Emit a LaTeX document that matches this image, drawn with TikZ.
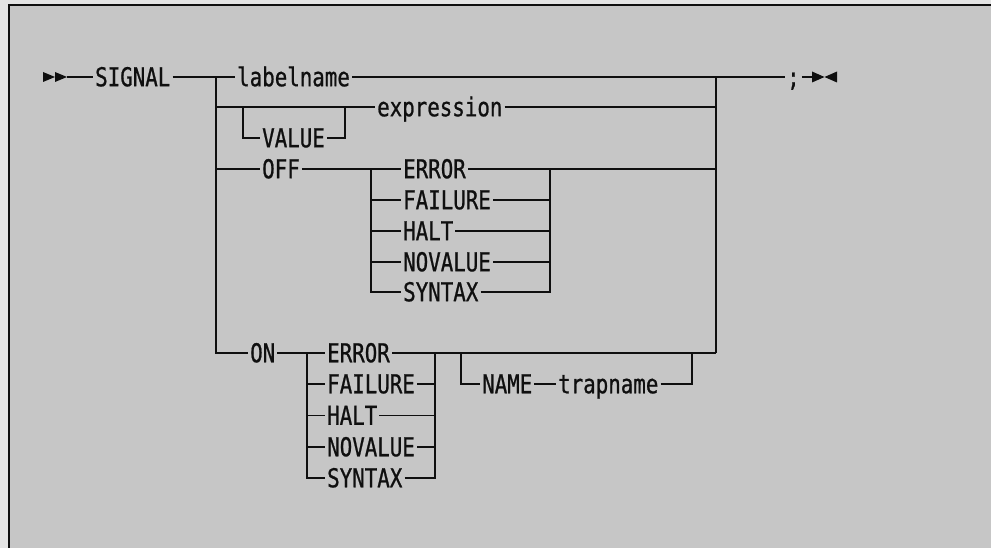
\documentclass[tikz,border=0pt]{standalone}
\usepackage{fontspec}
\newfontfamily\ibm[FakeStretch=0.8,FakeBold=0.8]{DejaVu Sans Mono}
\definecolor{paper}{RGB}{198,198,198}
\definecolor{outer}{RGB}{228,228,228}
\definecolor{ink}{RGB}{15,15,15}
\begin{document}
\begin{tikzpicture}[x=1pt,y=-1pt,
  kw/.style={anchor=west, inner xsep=2pt, inner ysep=0pt, text height=18.5pt, text depth=0pt,
    font=\ibm\fontsize{26}{26}\selectfont, text=ink},
  rail/.style={line width=1.6pt, draw=ink, line join=miter},
  tip/.style={fill=ink}]
\useasboundingbox (0,0) rectangle (991,548);
\fill[outer] (0,0) rectangle (991,548);
\fill[paper] (9,5) rectangle (991,548);
\draw[line width=1.6pt, ink] (9,548) -- (9,5) -- (991,5);

% junctions
\coordinate (s) at (43,77);
\coordinate (a) at (67,77);
\coordinate (jl) at (216,77);
\coordinate (jr) at (716,77);
\coordinate (eend) at (812,77);
\coordinate (vl) at (243,107);
\coordinate (vr) at (345,107);
\coordinate (ol) at (371,169);
\coordinate (or) at (550,169);
\coordinate (nl) at (307,353);
\coordinate (nr) at (435,353);
\coordinate (ml) at (461,353);
\coordinate (mr) at (692,353);

% keywords
\node[kw] (sig) at (93,77) {SIGNAL};
\node[kw] (lab) at (235,77) {labelname};
\node[kw] (semi) at (785,77) {;};
\node[kw] (expr) at (375,107) {expression};
\node[kw] (val) at (260,138) {VALUE};
\node[kw] (off) at (260,169) {OFF};
\node[kw] (e1) at (401,169) {ERROR};
\node[kw] (f1) at (401,200) {FAILURE};
\node[kw] (h1) at (401,231) {HALT};
\node[kw] (n1) at (401,262) {NOVALUE};
\node[kw] (s1) at (401,292) {SYNTAX};
\node[kw] (on) at (248,353) {ON};
\node[kw] (e2) at (325,353) {ERROR};
\node[kw] (f2) at (325,384) {FAILURE};
\node[kw] (h2) at (325,415.5) {HALT};
\node[kw] (n2) at (325,447) {NOVALUE};
\node[kw] (s2) at (325,478) {SYNTAX};
\node[kw] (nm) at (480,384) {NAME};
\node[kw] (tn) at (556,384) {trapname};

% start and end markers
\fill[tip] (s) ++(0,-5) -- ++(12,5) -- ++(-12,5) -- cycle;
\fill[tip] (s) ++(12,-5) -- ++(12,5) -- ++(-12,5) -- cycle;
\fill[tip] (eend) ++(0,-5.5) -- ++(12.5,5.5) -- ++(-12.5,5.5) -- cycle;
\fill[tip] (eend) ++(25,-5.5) -- ++(-12.5,5.5) -- ++(12.5,5.5) -- cycle;

% main line
\draw[rail] (a) -- (sig.west);
\draw[rail] (sig.east) -- (lab.west);
\draw[rail] (lab.east) -- (semi.west);
\draw[rail] (semi.east) -- (eend);
\draw[rail] (jl) -- (jl |- on.west) -- (on.west);
\draw[rail] (jr) -- (jr |- e2.west);

% expression row
\draw[rail] (jl |- expr.west) -- (expr.west);
\draw[rail] (expr.east) -- (jr |- expr.west);
\draw[rail] (vl) |- (val.west);
\draw[rail] (val.east) -| (vr);

% OFF row
\draw[rail] (jl |- off.west) -- (off.west);
\draw[rail] (off.east) -- (e1.west);
\draw[rail] (e1.east) -- (jr |- e1.west);
\draw[rail] (ol) |- (s1.west);
\draw[rail] (s1.east) -| (or);
\foreach \n in {f1,h1,n1}{
  \draw[rail] (ol |- \n.west) -- (\n.west);
  \draw[rail] (\n.east) -- (or |- \n.west);
}

% ON row
\draw[rail] (on.east) -- (e2.west);
\draw[rail] (e2.east) -- (jr |- e2.west);
\draw[rail] (nl) |- (s2.west);
\draw[rail] (s2.east) -| (nr);
\foreach \n in {f2,h2,n2}{
  \draw[rail] (nl |- \n.west) -- (\n.west);
  \draw[rail] (\n.east) -- (nr |- \n.west);
}
\draw[rail] (ml) |- (nm.west);
\draw[rail] (nm.east) -- (tn.west);
\draw[rail] (tn.east) -| (mr);
\end{tikzpicture}
\end{document}
